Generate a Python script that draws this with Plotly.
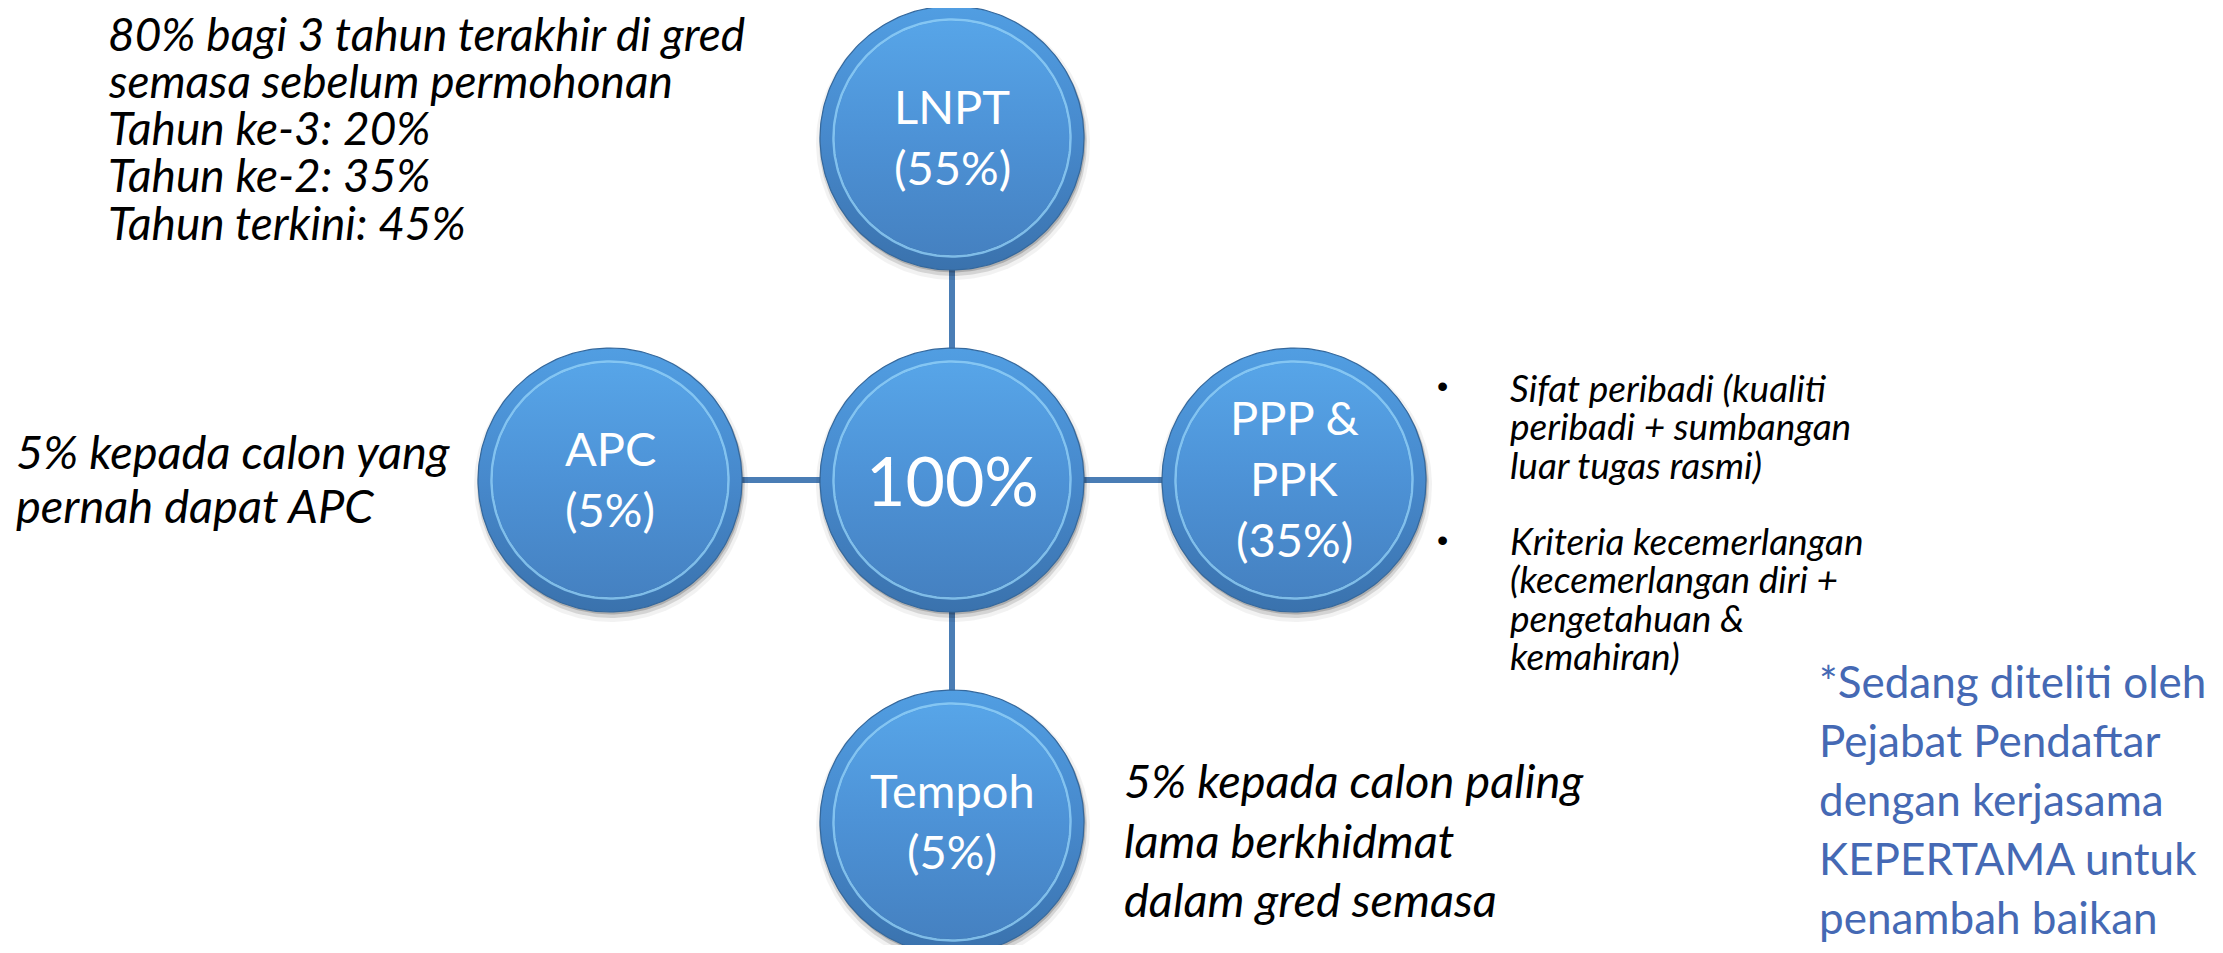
import numpy as np
import plotly.graph_objects as go

# ---------------- data ----------------
total_label = "100%"
categories = ["LNPT", "APC", "PPP & PPK", "Tempoh"]
category_lines = [["LNPT"], ["APC"], ["PPP &", "PPK"], ["Tempoh"]]
weights = [55, 5, 35, 5]
directions = ["up", "left", "right", "down"]

lnpt_notes = ["80% bagi 3 tahun terakhir di gred",
              "semasa sebelum permohonan",
              "Tahun ke-3: 20%",
              "Tahun ke-2: 35%",
              "Tahun terkini: 45%"]
apc_notes = ["5% kepada calon yang", "pernah dapat APC"]
tempoh_notes = ["5% kepada calon paling", "lama berkhidmat", "dalam gred semasa"]
ppp_bullet1 = ["Sifat peribadi (kualiti", "peribadi + sumbangan", "luar tugas rasmi)"]
ppp_bullet2 = ["Kriteria kecemerlangan", "(kecemerlangan diri +", "pengetahuan &", "kemahiran)"]
footnote = ["*Sedang diteliti oleh", "Pejabat Pendaftar", "dengan kerjasama",
            "KEPERTAMA untuk", "penambah baikan"]

# ---------------- layout constants ----------------
PAGE_W, PAGE_H = 2223, 953
BODY = 8  # default page body margin, compensated so coordinates match the page
W, H = PAGE_W - 2 * BODY, PAGE_H - 2 * BODY
CX, CY = 952, 480
STEP = 342
R = 132
R_IN = 117
offsets = {"up": (0, -STEP), "down": (0, STEP), "left": (-STEP, 0), "right": (STEP, 0)}

FONT = "Lato"
LINE_COL = "#4a7db5"

fig = go.Figure()

theta = np.linspace(0, 2 * np.pi, 241)


def circle_xy(cx, cy, r):
    return cx + r * np.cos(theta), cy + r * np.sin(theta)


nodes = [(CX, CY)] + [(CX + offsets[d][0], CY + offsets[d][1]) for d in directions]

# connectors
for (nx, ny) in nodes[1:]:
    fig.add_trace(go.Scatter(x=[CX, nx], y=[CY, ny], mode="lines",
                             line=dict(color=LINE_COL, width=6),
                             hoverinfo="skip", showlegend=False))

# circles
for (nx, ny) in nodes:
    # shadow
    for rr, dy, a in [(137, 5, 0.05), (134, 4, 0.12), (132.5, 2, 0.18)]:
        x, y = circle_xy(nx + 1, ny + dy, rr)
        fig.add_trace(go.Scatter(x=x, y=y, mode="lines", fill="toself",
                                 fillcolor=f"rgba(0,0,0,{a})", line=dict(width=0),
                                 hoverinfo="skip", showlegend=False))
    # outer disc (bevel band)
    x, y = circle_xy(nx, ny, R)
    fig.add_trace(go.Scatter(x=x, y=y, mode="lines", fill="toself",
                             fillgradient=dict(type="vertical", start=ny - R, stop=ny + R,
                                               colorscale=[[0, "#519ee2"], [0.5, "#4789cc"], [1, "#3a72ad"]]),
                             line=dict(color="#35689c", width=1.2),
                             hoverinfo="skip", showlegend=False))
    # rim highlight
    x, y = circle_xy(nx, ny, R_IN + 1.5)
    fig.add_trace(go.Scatter(x=x, y=y, mode="lines",
                             line=dict(color="rgba(150,212,250,0.75)", width=2.5),
                             hoverinfo="skip", showlegend=False))
    # inner body
    x, y = circle_xy(nx, ny, R_IN)
    fig.add_trace(go.Scatter(x=x, y=y, mode="lines", fill="toself",
                             fillgradient=dict(type="vertical", start=ny - R_IN, stop=ny + R_IN,
                                               colorscale=[[0, "#57a5e8"], [0.5, "#4d92d6"], [1, "#4581c1"]]),
                             line=dict(width=0),
                             hoverinfo="skip", showlegend=False))

annotations = []

# centre label
annotations.append(dict(x=CX, y=CY - 1, text=total_label, showarrow=False,
                        xanchor="center", yanchor="middle",
                        font=dict(family=FONT, size=68, color="white")))

LBL_SP = 61
for (nx, ny), lines, w in zip(nodes[1:], category_lines, weights):
    all_lines = lines + [f"({w}%)"]
    n = len(all_lines)
    for i, t in enumerate(all_lines):
        annotations.append(dict(x=nx, y=ny + (i - (n - 1) / 2) * LBL_SP - 2, text=t,
                                showarrow=False, xanchor="center", yanchor="middle",
                                font=dict(family=FONT, size=47, color="white")))


def add_lines(lines, x, y0, dy, size, color="black", italic=True):
    for i, t in enumerate(lines):
        txt = f"<i>{t}</i>" if italic else t
        annotations.append(dict(x=x, y=y0 + i * dy, text=txt, showarrow=False,
                                xanchor="left", yanchor="middle",
                                font=dict(family=FONT, size=size, color=color)))


add_lines(lnpt_notes, 106, 33, 47.3, 46)
add_lines(apc_notes, 14, 451, 54, 47)
add_lines(tempoh_notes, 1122, 780, 59.5, 47)
add_lines(ppp_bullet1, 1508, 387, 38.5, 37)
add_lines(ppp_bullet2, 1508, 540, 38.5, 37)
add_lines(footnote, 1817, 681, 59, 44, color="#4569b4", italic=False)

for by in [386, 540]:
    annotations.append(dict(x=1442, y=by, text="•", showarrow=False,
                            xanchor="center", yanchor="middle",
                            font=dict(family="Liberation Sans", size=32, color="black")))

fig.update_layout(
    width=W, height=H,
    margin=dict(l=0, r=0, t=0, b=0),
    paper_bgcolor="white", plot_bgcolor="white",
    xaxis=dict(range=[BODY, BODY + W], visible=False, fixedrange=True),
    yaxis=dict(range=[BODY + H, BODY], visible=False, fixedrange=True),
    annotations=annotations,
    showlegend=False,
)

fig.write_html("out.html")
